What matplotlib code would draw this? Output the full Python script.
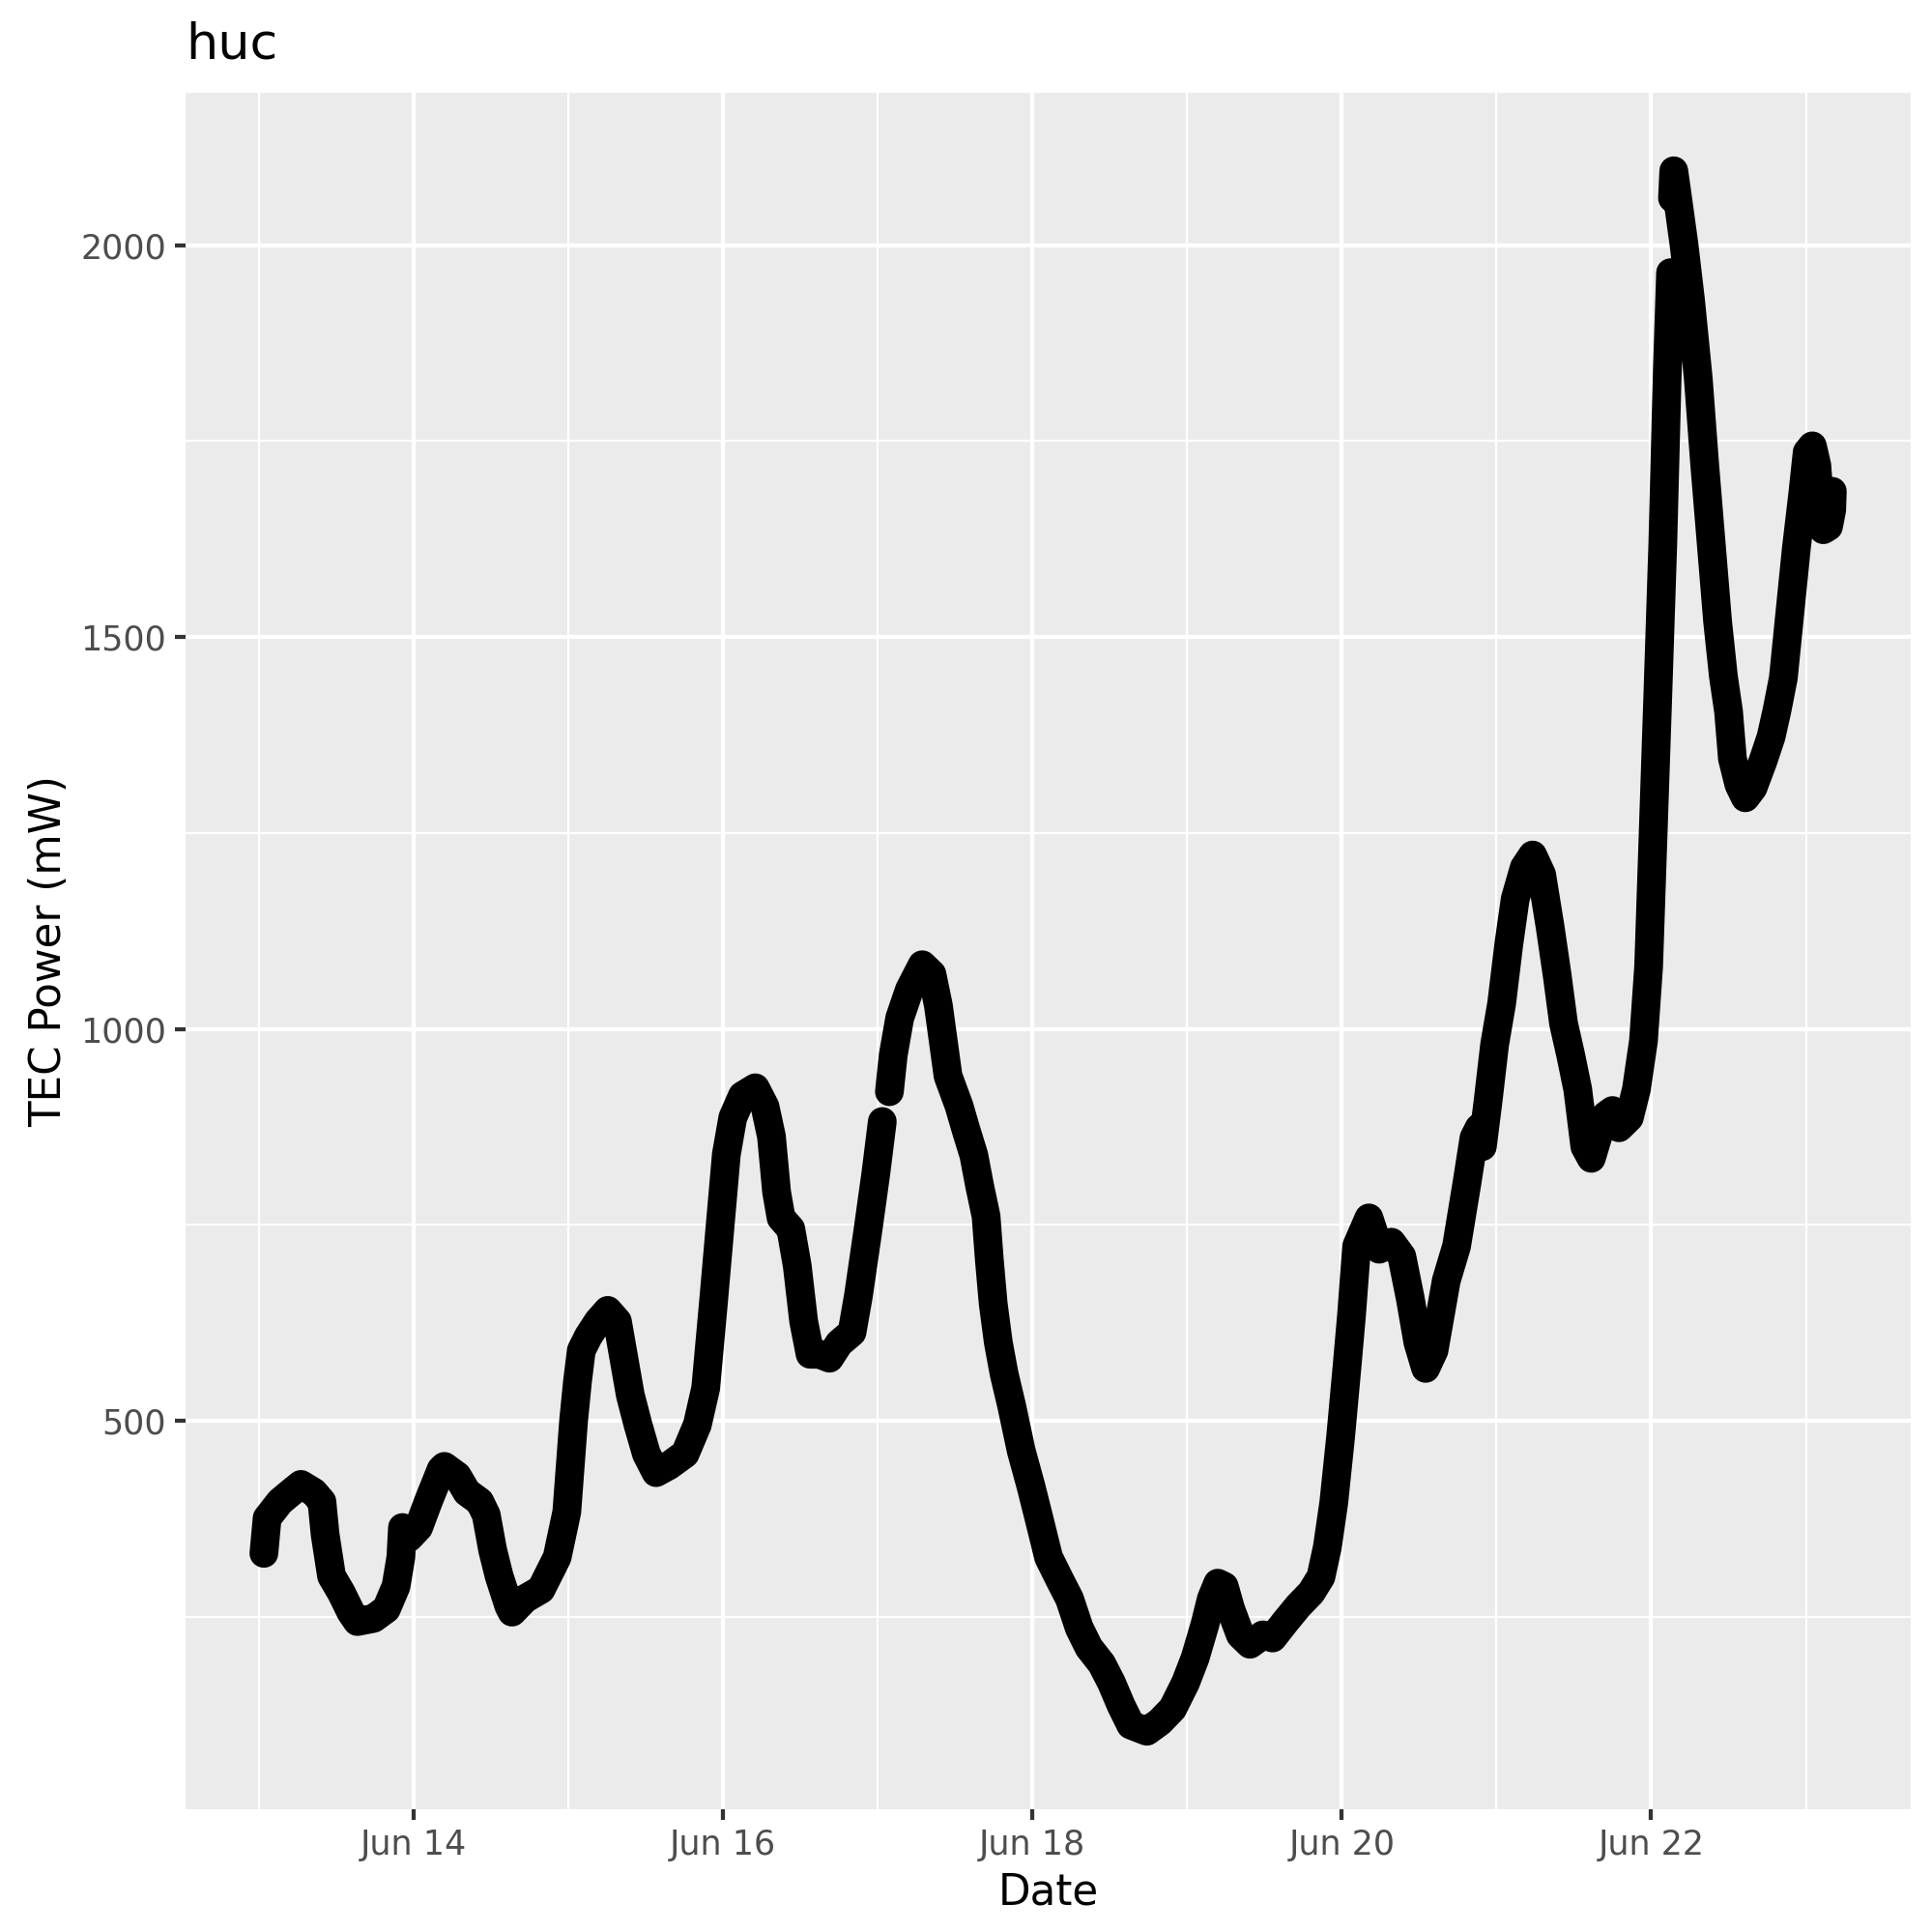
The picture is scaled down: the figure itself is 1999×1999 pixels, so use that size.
import numpy as np
import pandas as pd
import matplotlib
matplotlib.use('Agg')
import matplotlib.pyplot as plt
import matplotlib.dates as mdates
from matplotlib.ticker import MultipleLocator

# hours after 2023-06-13 00:00 and TEC power (mW)
# NaN marks the two places where the trace is broken
start_date = '2023-06-13'
hours = [0.75, 1.25, 3.25, 5.0, 6.5, 8.5, 9.75, 10.25, 11.25, 12.75, 14.25, 15.25, 17.75, 19.75,
         21.25, 22.0, 22.25, 23.25, 24.75, 26.25, 28.25, 28.75, 30.75, 32.25, 34.25, 35.25, 36.25,
         37.25, 38.75, 39.25, 41.25, 43.75, 46.25, 47.75, 48.8, 49.4, 50.0, 51.1, 52.6, 54.1, 55.6,
         56.6, 57.6, 58.8, 60.1, 61.6, 63.6, 66.1, 68.0, 69.3, 70.5, 71.5, 72.5, 73.5, 75.0, 77.0,
         78.5, 79.5, 80.3, 81.0, 82.5, 83.5, 84.5, 85.5, 87.0, 88.5, 90.0, 92.0, 93.0, 94.5, 95.7,
         96.7, 97.2,
         97.8, 98.4, 99.4, 100.9, 102.9, 104.4, 105.4, 106.9, 108.6, 109.7, 110.9, 111.8, 112.8,
         113.3, 113.9, 114.7, 115.6, 116.75, 118.25, 119.75, 121.0, 122.5, 124.25, 125.75, 127.25,
         128.75, 130.75, 132.25, 133.75, 135.25, 137.75, 139.75, 141.75, 143.75, 145.25, 146.75,
         147.75, 148.75, 149.75, 150.75, 152.25, 153.75, 155.75, 157.25, 159.25, 161.25, 163.25,
         164.75, 165.75, 166.75, 167.8, 168.8, 169.5, 170.3, 172.2, 173.8, 175.7, 177.3, 178.6,
         179.8, 181.0, 182.3, 184.2, 185.8, 187.4, 188.5, 189.3, 189.8, 190.7, 191.7, 192.8, 193.9,
         194.9, 196.3, 197.6, 199.0, 200.3, 201.4, 202.4, 203.5, 204.6, 205.7, 206.7, 207.8, 209.0,
         210.0, 211.0, 212.6, 213.7, 214.8, 215.6, 216.3, 217.0, 217.8, 218.5, 219.0, 219.15,
         219.3, 219.5, 220.1, 221.1, 222.1, 223.3, 224.3, 225.3, 226.3, 227.2, 228.0, 228.6, 229.6,
         230.6, 231.8, 233.3, 234.6, 235.5, 236.5, 237.5, 238.5, 239.5, 240.2, 241.0, 241.7, 242.2,
         242.7, 243.5, 244.0, 244.1]
tec_power = [331, 376, 397, 409, 419, 409, 397, 355, 302, 281, 256, 244, 248, 260,
             289, 326, 364, 351, 364, 397, 438, 442, 430, 409, 397, 380, 335,
             302, 264, 256, 273, 285, 326, 384, 500, 550, 590, 608, 627, 641, 627,
             580, 533, 495, 458, 434, 443, 458, 495, 542, 651, 745, 840, 887, 915, 925,
             901, 863, 792, 759, 745, 698, 627, 585, 585, 580, 599, 613, 660, 745, 816,
             882, np.nan,
             920, 967, 1014, 1050, 1082, 1070, 1030, 940, 902, 871, 839, 800, 761,
             706, 650, 600, 560, 520, 462, 417, 376, 326, 297, 273, 236,
             211, 190, 166, 137, 112, 104, 116, 133, 166, 198, 240,
             273, 293, 289, 260, 227, 215, 227, 223, 244, 264, 281,
             301, 339, 396, 479, 569, 635, 723, 759, 719, 728, 710, 657,
             600, 567, 590, 679, 723, 803, 861, 874, 850, 909, 980, 1033, 1108,
             1166, 1206, 1222, 1197, 1131, 1069, 1007, 967, 923, 850, 835, 865, 890,
             896, 874, 887, 923, 985, 1080, 1250, 1420, 1620, 1840, 1965, np.nan,
             2060, 2095, 2060, 2000, 1930, 1830, 1720, 1620, 1520, 1450, 1405, 1345, 1312,
             1295, 1308, 1341, 1373, 1406, 1448, 1530, 1612, 1682, 1736, 1744, 1719, 1662,
             1637, 1641, 1662, 1686]

dates = pd.Timestamp(start_date) + pd.to_timedelta(hours, unit='h')

plt.rcParams['font.family'] = 'DejaVu Sans'

fig = plt.figure(figsize=(7, 7), dpi=1999 / 7)
ax = fig.add_axes([0.096, 0.0635, 0.893, 0.8885])

ax.plot(dates, tec_power, color='black', linewidth=7.5,
        solid_capstyle='round', solid_joinstyle='round', zorder=3)

# ggplot-like look
ax.set_facecolor('#EBEBEB')
ax.margins(x=0.05, y=0.05)
for spine in ax.spines:
    ax.spines[spine].set_visible(False)

ax.xaxis.set_major_locator(mdates.DayLocator(bymonthday=[14, 16, 18, 20, 22]))
ax.xaxis.set_minor_locator(mdates.DayLocator(bymonthday=[13, 15, 17, 19, 21, 23]))
ax.xaxis.set_major_formatter(mdates.DateFormatter('%b %d'))
ax.yaxis.set_major_locator(MultipleLocator(500))
ax.yaxis.set_minor_locator(MultipleLocator(250))

ax.grid(which='major', color='white', linewidth=1.07)
ax.grid(which='minor', color='white', linewidth=0.53)
ax.set_axisbelow(True)

ax.tick_params(which='major', length=2.75, width=1.07, color='#333333',
               labelsize=8.8, labelcolor='#4D4D4D', pad=2.2)
ax.tick_params(which='minor', length=0)

ax.set_xlabel('Date', fontsize=11, labelpad=2.75)
ax.set_ylabel('TEC Power (mW)', fontsize=11, labelpad=2.75)
ax.set_title('huc', loc='left', fontsize=13.2, pad=9)

plt.savefig('out.png', dpi=1999 / 7)
